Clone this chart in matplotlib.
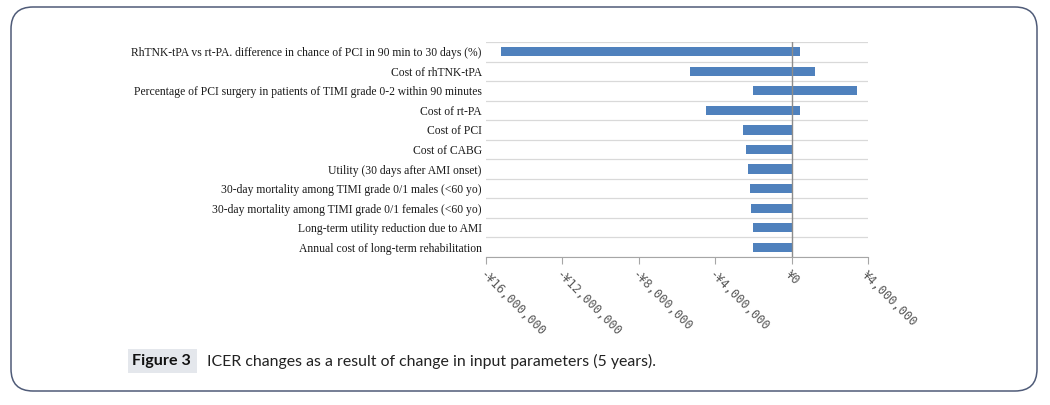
import matplotlib.pyplot as plt
from matplotlib.patches import FancyBboxPatch, Rectangle
from matplotlib.ticker import FuncFormatter

# tornado chart data (values in yen)
params = [
    "RhTNK-tPA vs rt-PA. difference in chance of PCI in 90 min to 30 days (%)",
    "Cost of rhTNK-tPA",
    "Percentage of PCI surgery in patients of TIMI grade 0-2 within 90 minutes",
    "Cost of rt-PA",
    "Cost of PCI",
    "Cost of CABG",
    "Utility (30 days after AMI onset)",
    "30-day mortality among TIMI grade 0/1 males (<60 yo)",
    "30-day mortality among TIMI grade 0/1 females (<60 yo)",
    "Long-term utility reduction due to AMI",
    "Annual cost of long-term rehabilitation",
]
low = [-15240000, -5340000, -2040000, -4500000, -2570000, -2410000,
       -2290000, -2180000, -2110000, -2030000, -2030000]
high = [420000, 1200000, 3400000, 420000, 0, 0, 0, 0, 0, 0, 0]
xticks = [-16000000, -12000000, -8000000, -4000000, 0, 4000000]

W, H = 1050, 405
fig = plt.figure(figsize=(W / 100, H / 100), dpi=100)

# background layer in pixel coordinates: rounded frame + caption
bg = fig.add_axes([0, 0, 1, 1], zorder=0)
bg.set_xlim(0, W)
bg.set_ylim(H, 0)
bg.axis("off")
bg.add_patch(FancyBboxPatch((11, 7), 1026, 384,
                            boxstyle="round,pad=0,rounding_size=22",
                            fill=False, edgecolor="#4f5b78", linewidth=1.1))
bg.add_patch(Rectangle((128, 349), 69, 24, facecolor="#e4e7ec", edgecolor="none"))
bg.text(132, 361, "Figure 3", fontsize=11.6, fontweight="bold", family="Lato",
        va="center", ha="left", color="#111111")
bg.text(207, 361, "ICER changes as a result of change in input parameters (5 years).",
        fontsize=11.4, family="Lato", va="center", ha="left", color="#222222")

# main chart
ax = fig.add_axes([486 / W, 1 - 257 / H, (868 - 486) / W, (257 - 42) / H], zorder=1)
ax.patch.set_alpha(0)
ypos = list(range(len(params)))
widths = [h - l for l, h in zip(low, high)]
ax.barh(ypos, widths, left=low, height=0.47, color="#4f81bd", zorder=3)

ax.set_xlim(xticks[0], xticks[-1])
ax.set_ylim(len(params) - 0.5, -0.5)

# category separators
for i in range(len(params) + 1):
    ax.axhline(i - 0.5, color="#d9d9d9", linewidth=0.9, zorder=1)
ax.axvline(0, color="#8c8c8c", linewidth=1.0, zorder=4)

for s in ["top", "right", "left"]:
    ax.spines[s].set_visible(False)
ax.spines["bottom"].set_color("#a6a6a6")
ax.spines["bottom"].set_zorder(2)

ax.set_yticks(ypos)
ax.set_yticklabels(params, family="Liberation Serif", fontsize=8.4, color="#1a1a1a")
ax.tick_params(axis="y", length=0, pad=3)

ax.set_xticks(xticks)
ax.xaxis.set_major_formatter(FuncFormatter(
    lambda v, p: ("-" if v < 0 else "") + "\u00a5" + f"{abs(int(v)):,}"))
ax.tick_params(axis="x", direction="out", length=5, color="#a6a6a6", pad=3)
for lab in ax.get_xticklabels():
    lab.set_rotation(-45)
    lab.set_rotation_mode("anchor")
    lab.set_ha("left")
    lab.set_va("top")
    lab.set_family("DejaVu Sans Mono")
    lab.set_fontsize(8.7)
    lab.set_color("#595959")

fig.savefig("out.png", dpi=100)
